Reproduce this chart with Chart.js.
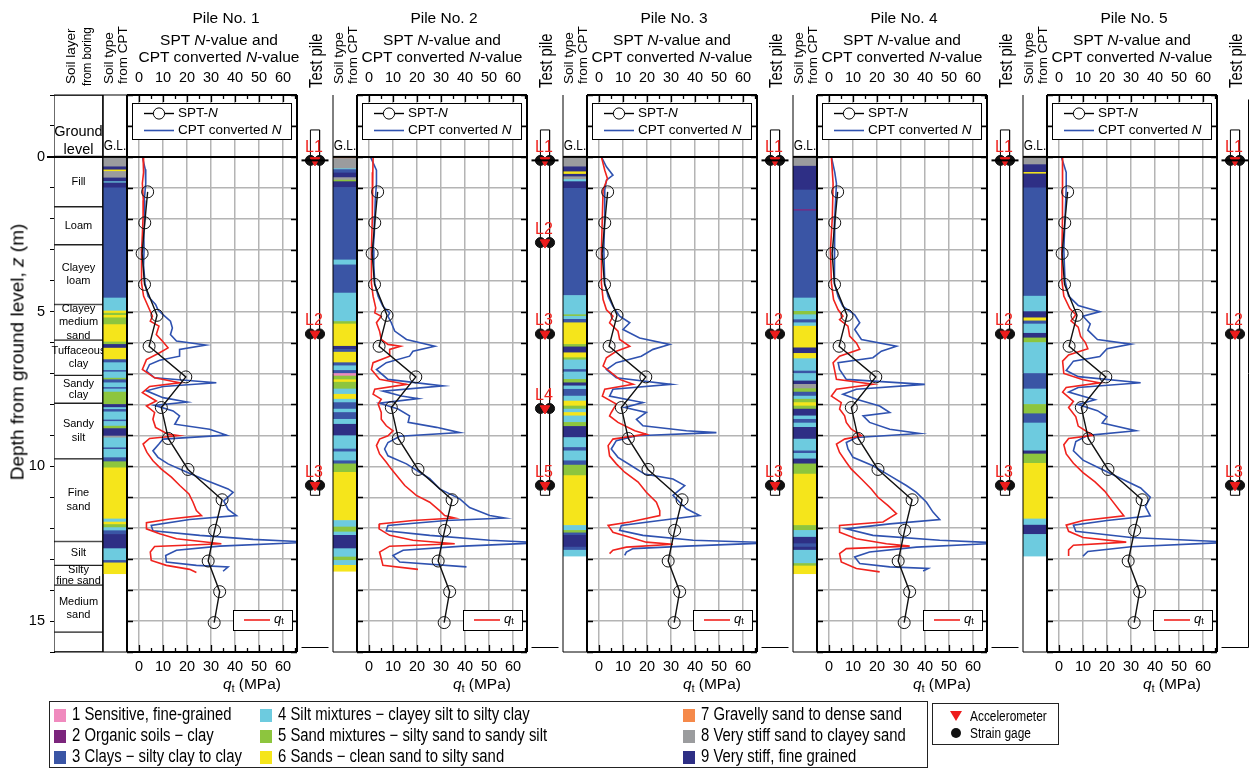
<!DOCTYPE html>
<html><head><meta charset="utf-8">
<script src="https://cdn.jsdelivr.net/npm/chart.js@4.4.1/dist/chart.umd.min.js"></script>
<style>
html,body{margin:0;padding:0;background:#fff;}
#root{position:relative;width:1257px;height:769px;overflow:hidden;font-family:'Liberation Sans',Arial,sans-serif;color:#000;background:#fff;}
canvas{position:absolute;}
.t{position:absolute;white-space:nowrap;line-height:1;}
</style></head><body><div id="root"></div>
<script>
// ---------------- DATA ----------------
const depthRange = [-2, 16];
const nRange = [-5, 65.8];
const nTicks = [0, 10, 20, 30, 40, 50, 60];
const depthTickLabels = [0, 5, 10, 15];
const pileNames = ['Pile No. 1', 'Pile No. 2', 'Pile No. 3', 'Pile No. 4', 'Pile No. 5'];

// SPT N (same boring for all piles)
const sptDepth = [1.13, 2.13, 3.12, 4.12, 5.12, 6.12, 7.11, 8.1, 9.1, 10.1, 11.08, 12.07, 13.06, 14.05, 15.05];
const sptN     = [3.6, 2.4, 1.3, 2.3, 7.5, 4.2, 19.5, 9.3, 12.2, 20.4, 34.6, 31.5, 28.8, 33.6, 31.3];

// soil layers from boring: boundaries (m) and names
const layerBounds = [-2, 0, 1.61, 2.84, 4.77, 5.92, 7.06, 7.96, 9.76, 12.43, 13.2, 13.84, 15.36, 16];
const layerNames = ['Ground\nlevel', 'Fill', 'Loam', 'Clayey\nloam', 'Clayey\nmedium\nsand', 'Tuffaceous\nclay', 'Sandy\nclay', 'Sandy\nsilt', 'Fine\nsand', 'Silt', 'Silty\nfine sand', 'Medium\nsand', ''];

// soil behaviour type legend
const soilTypeNames = ['1 Sensitive, fine-grained', '2 Organic soils \u2212 clay', '3 Clays \u2212 silty clay to clay',
  '4 Silt mixtures \u2212 clayey silt to silty clay', '5 Sand mixtures \u2212 silty sand to sandy silt', '6 Sands \u2212 clean sand to silty sand',
  '7 Gravelly sand to dense sand', '8 Very stiff sand to clayey sand', '9 Very stiff, fine grained'];

// soil type from CPT: [top, bottom, type]
const soilP1 = [[0,0.32,8],[0.32,0.42,9],[0.42,0.47,6],[0.47,0.68,8],[0.68,0.8,9],[0.8,0.84,4],[0.84,1.0,9],[1.0,4.56,3],[4.56,4.98,4],[4.98,5.05,6],[5.05,5.12,5],[5.12,5.2,6],[5.2,5.42,5],[5.42,5.98,6],[5.98,6.06,5],[6.06,6.18,9],[6.18,6.55,6],[6.55,6.65,3],[6.65,6.9,4],[6.9,6.95,3],[6.95,7.15,4],[7.15,7.2,5],[7.2,7.3,3],[7.3,7.45,4],[7.45,7.5,3],[7.5,7.6,4],[7.6,8.0,5],[8.0,8.1,9],[8.1,8.16,4],[8.16,8.24,3],[8.24,8.5,4],[8.5,8.55,3],[8.55,8.7,4],[8.7,8.78,5],[8.78,9.02,9],[9.02,9.08,8],[9.08,9.4,4],[9.4,9.45,3],[9.45,9.72,4],[9.72,9.85,3],[9.85,10.05,5],[10.05,11.7,6],[11.7,11.8,4],[11.8,11.88,6],[11.88,11.98,5],[11.98,12.08,4],[12.08,12.2,3],[12.2,12.66,9],[12.66,13.04,4],[13.04,13.12,3],[13.12,13.47,6]];
const soilP2 = [[0,0.05,7],[0.05,0.38,8],[0.38,0.41,4],[0.41,0.52,3],[0.52,0.67,9],[0.67,0.75,8],[0.75,0.8,5],[0.8,0.99,9],[0.99,3.33,3],[3.33,3.49,4],[3.49,4.4,3],[4.4,5.32,4],[5.32,5.4,5],[5.4,6.12,6],[6.12,6.22,9],[6.22,6.31,3],[6.31,6.65,6],[6.65,6.75,3],[6.75,6.9,4],[6.9,7.0,3],[7.0,7.08,1],[7.08,7.2,5],[7.2,7.28,6],[7.28,7.5,5],[7.5,7.67,4],[7.67,7.83,6],[7.83,7.94,4],[7.94,8.15,3],[8.15,8.26,4],[8.26,8.48,3],[8.48,8.64,4],[8.64,9.01,9],[9.01,9.44,4],[9.44,9.53,3],[9.53,9.82,4],[9.82,9.92,3],[9.92,10.19,5],[10.19,11.75,6],[11.75,11.96,4],[11.96,12.12,5],[12.12,12.23,4],[12.23,12.66,9],[12.66,12.93,4],[12.93,13.04,5],[13.04,13.2,4],[13.2,13.39,6]];
const soilP3 = [[0,0.32,8],[0.32,0.48,9],[0.48,0.56,6],[0.56,0.64,9],[0.64,0.73,8],[0.73,0.8,4],[0.8,1.02,9],[1.02,4.48,3],[4.48,5.1,4],[5.1,5.15,5],[5.15,5.25,4],[5.25,5.36,3],[5.36,6.06,6],[6.06,6.14,5],[6.14,6.33,9],[6.33,6.49,6],[6.49,6.56,5],[6.56,6.87,4],[6.87,6.95,3],[6.95,7.19,4],[7.19,7.3,5],[7.3,7.4,9],[7.4,7.51,4],[7.51,7.73,3],[7.73,7.89,4],[7.89,8.05,6],[8.05,8.15,5],[8.15,8.26,4],[8.26,8.37,6],[8.37,8.58,4],[8.58,8.71,5],[8.71,9.07,9],[9.07,9.39,4],[9.39,9.5,3],[9.5,9.82,4],[9.82,9.96,3],[9.96,10.3,5],[10.3,11.91,6],[11.91,12.07,4],[12.07,12.15,5],[12.15,12.23,3],[12.23,12.61,9],[12.61,12.71,3],[12.71,12.9,4]];
const soilP4 = [[0,0.3,8],[0.3,1.07,9],[1.07,1.7,3],[1.7,1.74,2],[1.74,4.56,3],[4.56,4.99,4],[4.99,5.1,5],[5.1,5.26,4],[5.26,5.36,3],[5.36,5.47,4],[5.47,6.17,6],[6.17,6.35,9],[6.35,6.52,6],[6.52,6.92,4],[6.92,7.0,3],[7.0,7.24,4],[7.24,7.35,9],[7.35,7.49,8],[7.49,7.6,5],[7.6,7.73,3],[7.73,7.83,4],[7.83,7.94,5],[7.94,8.05,6],[8.05,8.15,5],[8.15,8.37,9],[8.37,8.48,4],[8.48,8.6,3],[8.6,8.74,4],[8.74,9.12,9],[9.12,9.5,4],[9.5,9.58,3],[9.58,9.76,4],[9.76,9.92,9],[9.92,10.25,5],[10.25,11.91,6],[11.91,12.07,5],[12.07,12.29,4],[12.29,12.5,9],[12.5,12.61,3],[12.61,12.71,9],[12.71,13.14,4],[13.14,13.22,5],[13.22,13.47,6]];
const soilP5 = [[0,0.25,8],[0.25,0.5,9],[0.5,0.55,6],[0.55,1.0,9],[1.0,4.5,3],[4.5,5.0,4],[5.0,5.2,9],[5.2,5.3,6],[5.3,5.4,3],[5.4,5.7,4],[5.7,5.85,9],[5.85,6.0,5],[6.0,7.0,4],[7.0,7.5,3],[7.5,8.0,4],[8.0,8.3,5],[8.3,8.6,3],[8.6,9.5,4],[9.5,9.6,9],[9.6,9.9,5],[9.9,11.7,6],[11.7,11.9,4],[11.9,12.2,9],[12.2,12.9,4]];

// cone resistance qt (MPa): [depth, value]
const qtP1 = [[0,1.7],[0.5,1.9],[0.86,1.4],[1.4,1.8],[1.93,1.7],[2.5,1.4],[3.0,1.1],[3.5,1.0],[4.08,1.1],[4.5,1.9],[4.94,4.4],[5.15,5.6],[5.31,4.7],[5.47,8.3],[5.74,7.2],[5.95,9.7],[6.17,12.1],[6.33,8.6],[6.55,3.1],[6.87,1.4],[7.14,6.5],[7.3,17],[7.42,4.4],[7.62,1.4],[7.89,7.2],[8.05,3.1],[8.26,6.5],[8.48,5.8],[8.74,6.9],[8.96,12.1],[9.01,16.4],[9.1,4.4],[9.28,1.7],[9.55,3.3],[9.82,5.8],[10.09,9.3],[10.35,13.5],[10.62,17],[10.89,20.8],[11.16,22.5],[11.43,23.9],[11.59,26],[11.7,12.8],[11.82,3.1],[12.02,3.1],[12.18,8.6],[12.34,15.6],[12.5,34.3],[12.59,6.5],[12.77,4.7],[13.04,5.1],[13.2,11.4],[13.33,21.1],[13.43,23.9]];
const qtP2 = [[0,1.7],[0.5,1.6],[0.86,1.4],[1.93,1.4],[3.0,1.0],[4.08,1.0],[4.5,1.7],[4.88,2.8],[5.04,2.4],[5.15,5.1],[5.36,3.1],[5.63,4.4],[5.9,5.1],[6.06,7.9],[6.12,13.1],[6.22,8.6],[6.44,8.6],[6.65,1.7],[6.87,1.0],[7.19,4.4],[7.35,15.6],[7.51,2.4],[7.67,1.7],[7.83,5.1],[7.99,3.8],[8.26,5.1],[8.48,5.1],[8.69,7.2],[8.85,10],[9.01,7.9],[9.12,4.4],[9.33,3.1],[9.6,4.4],[9.87,7.2],[10.09,9.3],[10.35,12.1],[10.62,14.9],[10.94,19.7],[11.16,25.3],[11.43,29.4],[11.59,31.5],[11.67,35.7],[11.75,18.3],[11.86,4.4],[12.02,4.2],[12.23,8.6],[12.39,18.3],[12.5,35.7],[12.58,8.6],[12.77,4.4],[12.98,5.1],[13.2,5.8],[13.33,20.4]];
const qtP3 = [[0,1.0],[0.43,2.4],[0.7,3.5],[1.07,1.7],[1.93,1.4],[3.0,1.0],[4.08,1.0],[4.61,1.7],[4.94,3.1],[5.15,5.8],[5.36,4.4],[5.63,7.9],[5.9,8.6],[6.12,12.8],[6.28,7.2],[6.49,3.1],[6.76,1.7],[7.19,8.6],[7.35,14.2],[7.51,2.4],[7.73,1.4],[7.99,7.2],[8.26,5.1],[8.37,4.4],[8.58,7.9],[8.85,14.9],[8.96,19.7],[9.12,5.8],[9.33,3.8],[9.66,4.4],[9.92,7.2],[10.19,10.7],[10.51,16.3],[10.84,19.7],[11.16,23.9],[11.43,25.3],[11.59,25.3],[11.8,12.8],[11.91,3.8],[12.13,5.8],[12.29,12.8],[12.45,19.7],[12.52,30.8],[12.61,11.4],[12.71,5.8],[12.82,4.4]];
const qtP4 = [[0,1.0],[0.86,1.7],[1.93,1.4],[3.0,0.6],[4.08,1.0],[4.61,1.9],[4.94,3.8],[5.15,5.8],[5.26,4.4],[5.47,7.9],[5.79,8.6],[6.01,11.4],[6.22,12.8],[6.44,4.4],[6.65,1.7],[7.19,3.1],[7.35,18.3],[7.51,3.1],[7.73,1.0],[7.94,5.1],[8.15,4.4],[8.37,6.5],[8.58,7.2],[8.8,9.3],[9.01,13.5],[9.12,6.5],[9.28,3.1],[9.55,4.4],[9.87,7.2],[10.09,9.3],[10.41,13.5],[10.73,17.6],[11.0,20.4],[11.27,24.6],[11.53,28.1],[11.8,22.5],[11.91,4.4],[12.13,4.4],[12.34,11.4],[12.5,23.9],[12.58,33.6],[12.66,7.2],[12.82,4.4],[13.09,5.1],[13.3,11.4],[13.41,21.1]];
const qtP5 = [[0,1.5],[1,1.5],[2,1.4],[3,1.2],[4,1.2],[4.5,2],[4.9,4.5],[5.1,7],[5.3,5],[5.5,8],[5.8,9],[6.0,11],[6.2,12],[6.4,4],[6.6,1.5],[7.0,2],[7.2,10],[7.3,17],[7.45,3],[7.6,1.5],[7.9,6],[8.1,4],[8.4,7],[8.7,8],[8.9,12],[9.0,14],[9.1,4],[9.3,2],[9.6,3],[9.9,6],[10.2,10],[10.5,15],[10.8,19],[11.1,22],[11.4,25],[11.6,27],[11.75,10],[11.9,3],[12.1,4],[12.3,10],[12.45,28],[12.55,6],[12.7,4],[12.9,4]];

// CPT converted N: [depth, value]
const cptP1 = [[0,1.4],[0.4,2.6],[0.86,2.8],[1.4,2.2],[1.93,2.4],[2.5,2.0],[3.0,2.1],[3.5,1.9],[4.08,2.5],[4.51,3.8],[4.77,6.9],[4.94,7.9],[5.1,10],[5.31,13.1],[5.53,13.9],[5.74,13.1],[5.95,15.6],[6.08,27.8],[6.22,16.9],[6.44,16.9],[6.57,8.6],[6.71,4.4],[6.92,3.1],[7.14,6.5],[7.3,32.2],[7.42,10],[7.56,3.1],[7.78,10],[7.92,20],[8.03,6.5],[8.21,14.2],[8.37,16.9],[8.64,14.9],[8.8,29.4],[8.99,36.4],[9.12,10],[9.28,8.3],[9.5,5.8],[9.71,7.9],[9.92,12.1],[10.19,20],[10.46,28.1],[10.73,37.1],[10.84,39.2],[11.12,35.3],[11.39,37.1],[11.59,40.6],[11.72,21.1],[11.91,5.1],[12.08,5.8],[12.23,25.3],[12.36,47.5],[12.45,72],[12.58,33.6],[12.71,15.6],[12.88,11.1],[13.09,11.4],[13.2,23.9],[13.25,37.1],[13.39,35]];
const cptP2 = [[0,0.6],[0.43,3.1],[0.86,3.1],[1.4,2.6],[1.93,2.4],[2.5,2.2],[3.0,1.7],[3.5,2.0],[4.08,2.4],[4.5,3.8],[4.83,5.8],[5.04,8.6],[5.15,7.9],[5.36,9.3],[5.63,10.7],[5.9,15.6],[6.12,27.4],[6.28,18.3],[6.44,16.9],[6.65,7.2],[6.87,3.1],[7.19,7.9],[7.4,30.8],[7.57,5.8],[7.73,13.5],[7.81,20.4],[7.96,4.4],[8.15,12.1],[8.37,16.9],[8.58,16.3],[8.74,28.1],[8.91,37.8],[9.03,12.8],[9.23,7.9],[9.44,6.5],[9.66,7.9],[9.92,15.6],[10.19,21.1],[10.4,25.3],[10.73,29.4],[11.05,37.8],[11.33,41.9],[11.59,50.3],[11.67,56.5],[11.75,32.2],[11.91,7.9],[12.08,7.2],[12.23,25.3],[12.39,50.3],[12.47,72],[12.58,39.2],[12.71,14.2],[12.88,10],[13.09,12.8],[13.25,40.6]];
const cptP3 = [[0,1.0],[0.32,3.1],[0.59,5.8],[0.75,3.1],[1.07,2.4],[1.93,2.4],[3.0,2.0],[4.08,2.4],[4.51,3.8],[4.83,5.8],[5.15,8.6],[5.36,12.8],[5.58,10],[5.85,16.9],[6.06,29.4],[6.22,22.5],[6.44,17.6],[6.65,7.2],[6.87,3.1],[7.14,7.2],[7.35,30.1],[7.51,5.8],[7.73,4.4],[7.94,18.3],[8.1,10.7],[8.26,19.7],[8.48,15.6],[8.69,18.3],[8.85,36.4],[8.91,48.9],[9.01,15.6],[9.17,7.2],[9.44,5.1],[9.71,7.9],[9.98,13.5],[10.25,19],[10.41,30.8],[10.62,35.7],[10.94,30.8],[11.16,33.6],[11.37,36.4],[11.59,41.9],[11.75,25.3],[11.91,9.3],[12.07,8.6],[12.23,18.3],[12.39,39.2],[12.47,72],[12.58,36.4],[12.66,14.2],[12.77,11.4],[12.88,10.7]];
const cptP4 = [[0,1.0],[0.5,2.4],[0.86,3.1],[1.93,2.4],[3.0,2.1],[4.08,2.4],[4.51,3.8],[4.83,5.8],[5.1,10.7],[5.36,12.8],[5.58,10.7],[5.9,13.5],[6.12,28.1],[6.28,21.8],[6.49,18.3],[6.65,3.8],[6.87,4.4],[7.19,7.2],[7.35,39.9],[7.51,11.4],[7.67,5.8],[7.83,11.4],[8.05,21.1],[8.26,25.3],[8.37,14.2],[8.58,16.9],[8.8,25.3],[8.94,37.8],[9.07,11.4],[9.23,7.2],[9.44,7.9],[9.71,10],[9.98,18.3],[10.3,25.3],[10.62,32.2],[10.84,36.4],[11.16,40.6],[11.48,43.3],[11.72,46.1],[11.86,25.3],[12.02,7.2],[12.23,18.3],[12.39,46.1],[12.48,72],[12.61,36.4],[12.77,16.9],[12.93,10.7],[13.14,12.8],[13.25,25.3],[13.3,41.3],[13.38,39.2]];
const cptP5 = [[0,1],[0.5,3],[1,3],[2,2.5],[3,2],[4,2.5],[4.5,4],[4.8,8],[5.0,17],[5.15,10],[5.4,13],[5.6,12],[5.9,16],[6.05,30],[6.2,20],[6.45,17],[6.6,6],[6.9,3],[7.1,8],[7.3,34],[7.45,8],[7.6,4],[7.85,15],[8.0,8],[8.2,16],[8.4,20],[8.6,18],[8.85,32],[9.0,12],[9.2,7],[9.5,6],[9.8,10],[10.1,18],[10.4,26],[10.7,34],[11.0,38],[11.3,36],[11.6,38],[11.75,20],[11.9,6],[12.1,7],[12.3,30],[12.45,72],[12.6,30],[12.75,12],[12.9,10]];

// test pile: head / tip depth and instrumented levels [label, depth, has accelerometer]
const pileHead = -1.0, pileTip = 11.0;
const sensP1 = [['L1',0,true],['L2',5.7,true],['L3',10.67,true]];
const sensP2 = [['L1',0,true],['L2',2.7,true],['L3',5.7,true],['L4',8.15,true],['L5',10.67,true]];
const sensP3 = [['L1',0,true],['L2',5.7,true],['L3',10.67,true]];
const sensP4 = [['L1',0,true],['L2',5.7,true],['L3',10.67,true]];
const sensP5 = [['L1',0,true],['L2',5.7,true],['L3',10.67,true]];

const soilData = [soilP1, soilP2, soilP3, soilP4, soilP5];
const qtData = [qtP1, qtP2, qtP3, qtP4, qtP5];
const cptData = [cptP1, cptP2, cptP3, cptP4, cptP5];
const sensData = [sensP1, sensP2, sensP3, sensP4, sensP5];

// ---------------- STYLE / LAYOUT ----------------
const FONT = "'Liberation Sans', Arial, sans-serif";
const soilColors = ['#f08abe', '#7b257c', '#3a55a5', '#6dcbdf', '#8dc53e', '#f5e51b', '#f5894a', '#9b9c9e', '#2e2f85'];
const RED = '#f0231e', BLUE = '#2f52b0', GRID = '#b4b4b4';
const TOP = 95, BOT = 652;
const LAYER_L = 54, LAYER_R = 103;
const PILE_STEP = 230, SOIL_W = 24, NPLOT_W = 170, TEST_W = 36;
const PILE_HALF = 0.34; // half-width of pile in test-pile column units
const NARROW = 0.85;    // horizontal condensing of the narrow captions

Chart.defaults.font.family = FONT;
Chart.defaults.color = '#000';
Chart.defaults.animation = false;
Chart.defaults.responsive = false;
Chart.defaults.plugins.legend.display = false;
Chart.defaults.plugins.tooltip.enabled = false;

const depthTicks = [];
for (let d = depthRange[0]; d <= depthRange[1]; d++) depthTicks.push(d);

const root = document.getElementById('root');
function mkCanvas(left, top, w, h) {
  const c = document.createElement('canvas');
  c.width = w; c.height = h;
  c.style.left = left + 'px'; c.style.top = top + 'px';
  c.style.width = w + 'px'; c.style.height = h + 'px';
  root.appendChild(c);
  return c;
}
// anchor: 'c' centered, 'r' rotated starting at point going up, 'rc' rotated centered, 'l' left-middle
function txt(html, x, y, size, anchor, sx) {
  const d = document.createElement('div');
  d.className = 't';
  d.innerHTML = html;
  d.style.left = x + 'px'; d.style.top = y + 'px'; d.style.fontSize = size + 'px';
  const s = sx ? ' scaleX(' + sx + ')' : '';
  if (anchor === 'c') { d.style.transform = 'translate(-50%,-50%)' + s; }
  else if (anchor === 'r') { d.style.transformOrigin = '0 0'; d.style.transform = 'rotate(-90deg) translateY(-50%)' + s; }
  else if (anchor === 'rc') { d.style.transform = 'translate(-50%,-50%) rotate(-90deg)' + s; }
  else { d.style.transformOrigin = '0 50%'; d.style.transform = 'translateY(-50%)' + s; }
  root.appendChild(d);
  return d;
}

// ---------- plugins ----------
const zeroLine = {
  id: 'zeroLine',
  afterDatasetsDraw(chart, args, o) {
    const y = chart.scales.y.getPixelForValue(0), a = chart.chartArea, ctx = chart.ctx;
    ctx.save(); ctx.strokeStyle = '#000'; ctx.lineWidth = 2;
    ctx.beginPath(); ctx.moveTo(a.left - (o.extendLeft || 0), y); ctx.lineTo(a.right, y); ctx.stroke(); ctx.restore();
  }
};
const frame = {
  id: 'frame',
  afterDraw(chart, args, o) {
    if (!o.sides) return;
    const a = chart.chartArea, ctx = chart.ctx;
    ctx.save(); ctx.strokeStyle = '#000'; ctx.lineWidth = o.width || 1; ctx.beginPath();
    if (o.sides.includes('t')) { ctx.moveTo(a.left, a.top); ctx.lineTo(a.right, a.top); }
    if (o.sides.includes('b')) { ctx.moveTo(a.left, a.bottom); ctx.lineTo(a.right, a.bottom); }
    if (o.sides.includes('l')) { ctx.moveTo(a.left, a.top); ctx.lineTo(a.left, a.bottom); }
    if (o.sides.includes('r')) { ctx.moveTo(a.right, a.top); ctx.lineTo(a.right, a.bottom); }
    ctx.stroke(); ctx.restore();
  }
};
function rich(ctx, parts, x, y) {
  for (const p of parts) {
    ctx.font = (p.i ? 'italic ' : '') + p.s + 'px ' + FONT;
    ctx.fillText(p.t, x, y + (p.dy || 0));
    x += ctx.measureText(p.t).width;
  }
}
const nDecor = {
  id: 'nDecor',
  afterDraw(chart) {
    const a = chart.chartArea, ctx = chart.ctx, ys = chart.scales.y, xs = chart.scales.x;
    ctx.save();
    ctx.strokeStyle = '#000'; ctx.lineWidth = 1.3;
    ctx.beginPath();
    for (const d of depthTicks) {
      const y = Math.round(ys.getPixelForValue(d)) + 0.5;
      ctx.moveTo(a.left, y); ctx.lineTo(a.left + 6, y);
      ctx.moveTo(a.right - 6, y); ctx.lineTo(a.right, y);
    }
    for (let v = 0; v < nRange[1] - 0.5; v += 5) {
      const x = Math.round(xs.getPixelForValue(v)) + 0.5, len = v % 10 === 0 ? 7 : 4;
      ctx.moveTo(x, a.top); ctx.lineTo(x, a.top + len);
      ctx.moveTo(x, a.bottom); ctx.lineTo(x, a.bottom - len);
    }
    ctx.stroke();
    // top legend
    const bx = a.left + 5, by = a.top + 8, bw = a.width - 11, bh = 36;
    ctx.fillStyle = '#fff'; ctx.fillRect(bx, by, bw, bh);
    ctx.lineWidth = 1; ctx.strokeStyle = '#000'; ctx.strokeRect(bx + 0.5, by + 0.5, bw, bh);
    const r1 = by + 10.5, r2 = by + 27.5, lx0 = a.left + 17, lx1 = a.left + 47;
    ctx.lineWidth = 1.4; ctx.beginPath(); ctx.moveTo(lx0, r1); ctx.lineTo(lx1, r1); ctx.stroke();
    ctx.fillStyle = '#fff'; ctx.beginPath(); ctx.arc((lx0 + lx1) / 2, r1, 5.6, 0, Math.PI * 2); ctx.fill();
    ctx.lineWidth = 1; ctx.stroke();
    ctx.strokeStyle = BLUE; ctx.lineWidth = 1.6; ctx.beginPath(); ctx.moveTo(lx0, r2); ctx.lineTo(lx1, r2); ctx.stroke();
    ctx.fillStyle = '#000'; ctx.textBaseline = 'middle'; ctx.textAlign = 'left';
    rich(ctx, [{t: 'SPT-', s: 13.5}, {t: 'N', s: 13.5, i: true}], lx1 + 4, r1);
    rich(ctx, [{t: 'CPT converted ', s: 13.5}, {t: 'N', s: 13.5, i: true}], lx1 + 4, r2);
    // bottom qt legend
    const qx = a.right - 64, qy = a.bottom - 42, qw = 59, qh = 20;
    ctx.fillStyle = '#fff'; ctx.fillRect(qx, qy, qw, qh);
    ctx.strokeStyle = '#000'; ctx.lineWidth = 1; ctx.strokeRect(qx + 0.5, qy + 0.5, qw, qh);
    ctx.strokeStyle = RED; ctx.lineWidth = 1.6; ctx.beginPath(); ctx.moveTo(qx + 11, qy + 10); ctx.lineTo(qx + 37, qy + 10); ctx.stroke();
    ctx.fillStyle = '#000';
    rich(ctx, [{t: 'q', s: 13, i: true}, {t: 't', s: 9, dy: 3}], qx + 41, qy + 9);
    ctx.restore();
  }
};
const layerText = {
  id: 'layerText',
  afterDatasetsDraw(chart) {
    const ctx = chart.ctx, ys = chart.scales.y, a = chart.chartArea, cx = (a.left + a.right) / 2;
    ctx.save(); ctx.fillStyle = '#000'; ctx.textAlign = 'center'; ctx.textBaseline = 'middle';
    layerNames.forEach((name, i) => {
      if (!name) return;
      const lines = name.split('\n');
      if (i === 0) {
        ctx.font = '14.5px ' + FONT;
        const yb = ys.getPixelForValue(layerBounds[1]);
        lines.forEach((ln, k) => ctx.fillText(ln, cx, yb - 25 + k * 18));
        return;
      }
      ctx.font = '11px ' + FONT;
      const yc = (ys.getPixelForValue(layerBounds[i]) + ys.getPixelForValue(layerBounds[i + 1])) / 2;
      const lh = lines.length > 1 && (layerBounds[i + 1] - layerBounds[i]) < 1 ? 11.5 : 13.5;
      lines.forEach((ln, k) => ctx.fillText(ln, cx, yc + (k - (lines.length - 1) / 2) * lh));
    });
    ctx.restore();
  }
};
const sensorText = {
  id: 'sensorText',
  afterDatasetsDraw(chart, args, o) {
    const ctx = chart.ctx, ys = chart.scales.y, xs = chart.scales.x;
    ctx.save(); ctx.fillStyle = RED; ctx.font = '16px ' + FONT; ctx.textAlign = 'center'; ctx.textBaseline = 'middle';
    o.sensors.forEach(s => ctx.fillText(s[0], xs.getPixelForValue(0) - 1, ys.getPixelForValue(s[1]) - 13));
    ctx.restore();
  }
};
Chart.register(zeroLine, frame);

const yHidden = {type: 'linear', display: false, reverse: true, min: depthRange[0], max: depthRange[1]};

// ---------- soil layer column (with the depth axis) ----------
(function () {
  const padV = 14;
  const c = mkCanvas(0, TOP - padV, LAYER_R + 3, BOT - TOP + 2 * padV);
  const segs = layerBounds.slice(0, -1).map((b, i) => ({x: 'L', y: [b, layerBounds[i + 1]]}));
  new Chart(c, {
    type: 'bar',
    data: {labels: ['L'], datasets: [{data: segs, backgroundColor: '#fff', borderColor: '#222', borderWidth: 1, borderSkipped: false, barPercentage: 1, categoryPercentage: 1}]},
    options: {
      layout: {padding: {left: 0, right: 3, top: padV, bottom: padV}},
      scales: {
        x: {display: false},
        y: {type: 'linear', position: 'left', reverse: true, min: depthRange[0], max: depthRange[1],
          afterFit: s => { s.width = LAYER_L; },
          afterBuildTicks: s => { s.ticks = depthTicks.map(v => ({value: v})); },
          ticks: {callback: v => depthTickLabels.includes(v) ? String(v) : '', font: {size: 14.5}, color: '#000', padding: 5, autoSkip: false},
          grid: {drawOnChartArea: false, drawTicks: true, tickLength: 4, color: '#000', lineWidth: 1},
          border: {display: true, color: '#000', width: 1}}
      },
      plugins: {zeroLine: {extendLeft: 7}, frame: {sides: 'tbr', width: 1}}
    },
    plugins: [layerText]
  });
})();

// ---------- per pile ----------
for (let i = 0; i < 5; i++) {
  const base = LAYER_R + PILE_STEP * i;
  const nL = base + SOIL_W, nR = nL + NPLOT_W;

  // soil type column
  {
    const pad = 2;
    const c = mkCanvas(base - pad, TOP - pad, SOIL_W + 2 * pad, BOT - TOP + 2 * pad);
    const segs = soilData[i];
    new Chart(c, {
      type: 'bar',
      data: {labels: ['S'], datasets: [{data: segs.map(s => ({x: 'S', y: [s[0], s[1]]})), backgroundColor: segs.map(s => soilColors[s[2] - 1]), borderWidth: 0, barPercentage: 1, categoryPercentage: 1}]},
      options: {layout: {padding: pad}, scales: {x: {display: false}, y: yHidden}, plugins: {frame: {sides: i === 0 ? 'tblr' : 'blr', width: 1}}}
    });
  }

  // test pile column
  {
    const pad = 2;
    const c = mkCanvas(nR - pad, TOP - pad, TEST_W + 2 * pad, BOT - TOP + 2 * pad);
    const sens = sensData[i];
    new Chart(c, {
      type: 'scatter',
      data: {datasets: [
        {data: [{x: -PILE_HALF, y: pileHead}, {x: PILE_HALF, y: pileHead}, {x: PILE_HALF, y: pileTip}, {x: -PILE_HALF, y: pileTip}, {x: -PILE_HALF, y: pileHead}],
          showLine: true, borderColor: '#000', borderWidth: 1, pointRadius: 0, order: 3},
        {data: sens.flatMap(s => [{x: -PILE_HALF, y: s[1]}, {x: PILE_HALF, y: s[1]}]), pointRadius: 5, pointBackgroundColor: '#111', pointBorderColor: '#111', order: 2},
        {data: sens.filter(s => s[2]).map(s => ({x: 0, y: s[1]})), pointStyle: 'triangle', rotation: 180, pointRadius: 5.5, pointBackgroundColor: '#ee1c1c', pointBorderColor: '#ee1c1c', order: 1}
      ]},
      options: {layout: {padding: pad}, clip: false,
        scales: {x: {type: 'linear', display: false, min: -1, max: 1}, y: yHidden},
        plugins: {frame: {sides: i === 4 ? 'br' : 'b', width: 1}, sensorText: {sensors: sens}}},
      plugins: [sensorText]
    });
  }

  // N-value / qt plot
  {
    const padX = 24, cTop = 55, cBot = 700;
    const c = mkCanvas(nL - padX, cTop, NPLOT_W + 2 * padX, cBot - cTop);
    const xTicksCfg = {font: {size: 14.5}, color: '#000', maxRotation: 0, autoSkip: false};
    const setTicks = s => { s.ticks = nTicks.map(v => ({value: v})); };
    new Chart(c, {
      type: 'scatter',
      data: {datasets: [
        {data: cptData[i].map(p => ({x: p[1], y: p[0]})), showLine: true, borderColor: BLUE, borderWidth: 1.6, pointRadius: 0, order: 3},
        {data: qtData[i].map(p => ({x: p[1], y: p[0]})), showLine: true, borderColor: RED, borderWidth: 1.6, pointRadius: 0, order: 2},
        {data: sptDepth.map((d, k) => ({x: sptN[k], y: d})), showLine: true, borderColor: '#111', borderWidth: 1.4,
          pointRadius: 6, pointBackgroundColor: 'rgba(0,0,0,0)', pointBorderColor: '#111', pointBorderWidth: 1, order: 1}
      ]},
      options: {
        layout: {padding: {left: padX, right: padX, top: 0, bottom: 0}},
        scales: {
          x: {type: 'linear', position: 'bottom', min: nRange[0], max: nRange[1], afterBuildTicks: setTicks,
            afterFit: s => { s.height = cBot - BOT; }, ticks: Object.assign({padding: 6}, xTicksCfg),
            grid: {color: GRID, lineWidth: 1.5, drawTicks: false}, border: {display: false}},
          xTop: {type: 'linear', position: 'top', min: nRange[0], max: nRange[1], afterBuildTicks: setTicks,
            afterFit: s => { s.height = TOP - cTop; }, ticks: Object.assign({padding: 8}, xTicksCfg),
            grid: {display: false, drawTicks: false}, border: {display: false}},
          y: {type: 'linear', reverse: true, min: depthRange[0], max: depthRange[1], afterBuildTicks: s => { s.ticks = depthTicks.map(v => ({value: v})); },
            afterFit: s => { s.width = 0; }, ticks: {display: false},
            grid: {color: GRID, lineWidth: 1.5, drawTicks: false}, border: {display: false}}
        },
        plugins: {frame: {sides: 'tblr', width: 2}}
      },
      plugins: [nDecor]
    });
  }

  // header & labels (HTML text)
  const nC = (nL + nR) / 2;
  txt(pileNames[i], i === 0 ? nC + 14 : nC + 2, 18, 15.5, 'c');
  txt('SPT <i>N</i>-value and', i === 0 ? nC + 7 : nC, 40, 15.5, 'c');
  txt('CPT converted <i>N</i>-value', i === 0 ? nC + 7 : nC, 57, 15.5, 'c');
  txt('<i>q</i><sub style="font-size:10px;vertical-align:-3px">t</sub> (MPa)', nC + 40, 685, 15.5, 'c');
  txt('Soil type', base + 5.5, 84, 13.5, 'r');
  txt('from CPT', base + 19.5, 84, 13.5, 'r');
  txt('Test pile', nR + 19.5, 88, 17.5, 'r', NARROW);
  txt('G.L.', base + 12, 145, 14, 'c', NARROW);
}

// left header texts
txt('Soil layer', 71, 84, 13.5, 'r');
txt('from boring', 87, 86, 13.5, 'r', 0.86);
txt('Depth from ground level, <i>z</i> (m)', 17, 352, 19, 'rc');

// ---------- bottom legends (HTML) ----------
(function () {
  const box = document.createElement('div');
  Object.assign(box.style, {position: 'absolute', left: '49px', top: '701px', width: '877px', height: '65px', border: '1.5px solid #222'});
  root.appendChild(box);
  const cols = [54, 260, 683], rows = [715, 736, 757];
  soilTypeNames.forEach((name, k) => {
    const cx = cols[Math.floor(k / 3)], cy = rows[k % 3];
    const sq = document.createElement('div');
    Object.assign(sq.style, {position: 'absolute', left: cx + 'px', top: (cy - 6) + 'px', width: '12px', height: '13px', background: soilColors[k]});
    root.appendChild(sq);
    txt(name, cx + 18, cy, 17.5, 'l', NARROW);
  });
  const box2 = document.createElement('div');
  Object.assign(box2.style, {position: 'absolute', left: '932px', top: '703px', width: '125px', height: '40px', border: '1.5px solid #222'});
  root.appendChild(box2);
  const tri = document.createElement('div');
  Object.assign(tri.style, {position: 'absolute', left: '950px', top: '711px', width: 0, height: 0, borderLeft: '6px solid transparent', borderRight: '6px solid transparent', borderTop: '10px solid #ee1c1c'});
  root.appendChild(tri);
  const dot = document.createElement('div');
  Object.assign(dot.style, {position: 'absolute', left: '951px', top: '728px', width: '10px', height: '10px', borderRadius: '50%', background: '#111'});
  root.appendChild(dot);
  txt('Accelerometer', 970, 716, 14, 'l', NARROW);
  txt('Strain gage', 970, 733, 14, 'l', NARROW);
})();
</script></body></html>
